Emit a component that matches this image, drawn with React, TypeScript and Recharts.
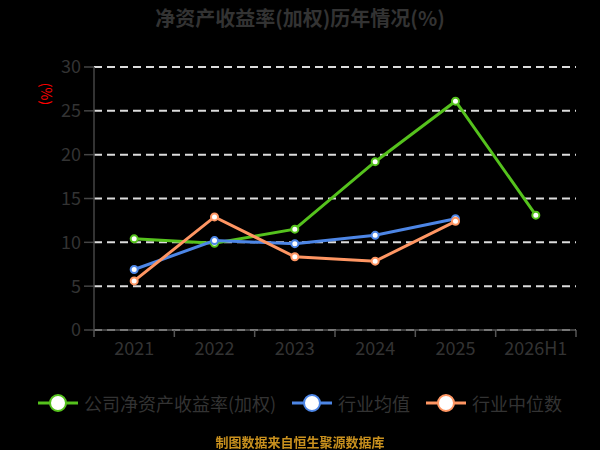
import { CartesianGrid, Line, LineChart, XAxis, YAxis } from 'recharts';

const categories = ['2021', '2022', '2023', '2024', '2025', '2026H1'];
const companyRoe = [10.4, 9.9, 11.5, 19.2, 26.1, 13.1];
const industryAvg = [6.9, 10.2, 9.85, 10.8, 12.7, null];
const industryMedian = [5.6, 12.9, 8.35, 7.85, 12.4, null];
const yTicks = [0, 5, 10, 15, 20, 25, 30];

const series = [
  { key: 'company', name: '公司净资产收益率(加权)', color: '#55c21d' },
  { key: 'avg', name: '行业均值', color: '#4d86e6' },
  { key: 'median', name: '行业中位数', color: '#ff9663' },
];

const data = categories.map((name, i) => ({
  name,
  company: companyRoe[i],
  avg: industryAvg[i],
  median: industryMedian[i],
}));

const W = 600;
const H = 450;
const LEFT = 94;
const RIGHT = 24;
const BAND = (W - LEFT - RIGHT) / categories.length;
const FONT = '"Noto Sans CJK SC", "Noto Sans", sans-serif';

function XTick(props: any) {
  const { x, y, payload, index } = props;
  const last = index === categories.length - 1;
  return (
    <g>
      <line x1={x - BAND / 2} x2={x - BAND / 2} y1={y} y2={y + 7} stroke='#555' strokeWidth={1.5} />
      {last && (
        <line x1={x + BAND / 2} x2={x + BAND / 2} y1={y} y2={y + 7} stroke='#555' strokeWidth={1.5} />
      )}
      <text x={x} y={y + 25} textAnchor='middle' fill='#333' fontSize={18} fontFamily={FONT}>
        {payload.value}
      </text>
    </g>
  );
}

function LegendRow() {
  return (
    <div
      style={{
        position: 'absolute',
        top: 390,
        left: 0,
        width: W,
        display: 'flex',
        justifyContent: 'center',
        gap: 16,
        fontFamily: FONT,
        fontSize: 18,
        color: '#333',
      }}
    >
      {series.map((s) => (
        <div key={s.key} style={{ display: 'flex', alignItems: 'center', gap: 6 }}>
          <svg width={40} height={26}>
            <line x1={0} x2={40} y1={13} y2={13} stroke={s.color} strokeWidth={3} />
            <circle cx={20} cy={13} r={8} fill='#fff' stroke={s.color} strokeWidth={2} />
          </svg>
          <span>{s.name}</span>
        </div>
      ))}
    </div>
  );
}

export default function App() {
  return (
    <div
      style={{
        position: 'fixed',
        top: 0,
        left: 0,
        width: W,
        height: H,
        background: '#000',
        fontFamily: FONT,
      }}
    >
      <div
        style={{
          position: 'absolute',
          top: 3,
          width: W,
          textAlign: 'center',
          fontSize: 20,
          fontWeight: 'bold',
          color: '#333',
        }}
      >
        净资产收益率(加权)历年情况(%)
      </div>
      <div
        style={{
          position: 'absolute',
          left: 36,
          top: 84,
          fontSize: 14,
          color: '#ff0000',
          transform: 'rotate(90deg)',
          transformOrigin: 'center',
        }}
      >
        (%)
      </div>
      <LineChart
        width={W}
        height={H}
        data={data}
        margin={{ top: 67, right: RIGHT, left: 0, bottom: 90 }}
      >
        <CartesianGrid
          vertical={false}
          stroke='#dcdcdc'
          strokeWidth={2}
          strokeDasharray='8 5'
        />
        <XAxis
          dataKey='name'
          height={30}
          tickSize={0}
          tickMargin={0}
          tickLine={false}
          padding={{ left: BAND / 2, right: BAND / 2 }}
          axisLine={{ stroke: '#555', strokeWidth: 1.5 }}
          tick={<XTick />}
          interval={0}
        />
        <YAxis
          width={LEFT}
          domain={[0, 30]}
          ticks={yTicks}
          tickSize={10}
          tickMargin={3}
          axisLine={{ stroke: '#444', strokeWidth: 1.5 }}
          tickLine={{ stroke: '#444', strokeWidth: 1.5 }}
          tick={{ fill: '#333', fontSize: 18, fontFamily: FONT }}
        />
        {series.map((s) => (
          <Line
            key={s.key}
            type='linear'
            dataKey={s.key}
            name={s.name}
            stroke={s.color}
            strokeWidth={3}
            dot={{ r: 3.5, fill: '#fff', stroke: s.color, strokeWidth: 2 }}
            activeDot={false}
            isAnimationActive={false}
          />
        ))}
      </LineChart>
      <LegendRow />
      <div
        style={{
          position: 'absolute',
          top: 432,
          width: W,
          textAlign: 'center',
          fontSize: 13,
          fontWeight: 'bold',
          color: '#c8901e',
        }}
      >
        制图数据来自恒生聚源数据库
      </div>
    </div>
  );
}
